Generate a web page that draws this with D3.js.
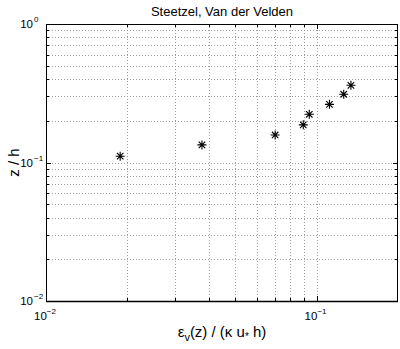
<!DOCTYPE html>
<html>
<head>
<meta charset="utf-8">
<script src="https://cdn.jsdelivr.net/npm/d3@7"></script>
<style>
  body { margin: 0; background: #fff; }
  svg { display: block; font-family: "Liberation Sans", Arial, Helvetica, sans-serif; }
</style>
</head>
<body>
<svg id="chart" width="400" height="349"></svg>
<script>
// Eddy viscosity profile (Steetzel, Van der Velden)
const epsilon = [0.0188, 0.0377, 0.0703, 0.0893, 0.094, 0.1116, 0.126, 0.134];
const zOverH  = [0.111, 0.134, 0.158, 0.187, 0.223, 0.263, 0.311, 0.361];

const xDomain = [0.01, 0.2];
const yDomain = [0.01, 1];
const xMajor = [0.01, 0.1];
const yMajor = [0.01, 0.1, 1];
const xMajorLabels = ["-2", "-1"];
const yMajorLabels = ["-2", "-1", "0"];

const margin = { left: 46, right: 2, top: 24, bottom: 48 };
const W = 400, H = 349;

const svg = d3.select("#chart");
const x = d3.scaleLog().domain(xDomain).range([margin.left, W - margin.right]);
const y = d3.scaleLog().domain(yDomain).range([H - margin.bottom, margin.top]);

const x0 = x.range()[0], x1 = x.range()[1];
const y0 = y.range()[0], y1 = y.range()[1];

// minor + major grid values strictly inside the domain
function logGrid(domain) {
  const out = [];
  for (let e = -3; e <= 1; e++) {
    for (let m = 1; m <= 9; m++) {
      const v = m * Math.pow(10, e);
      if (v > domain[0] * 1.0001 && v < domain[1] * 0.9999) out.push(v);
    }
  }
  return out;
}

const grid = svg.append("g").attr("stroke", "#9c9c9c").attr("stroke-width", 1)
  .attr("stroke-dasharray", "1,2");
grid.selectAll("line.gx").data(logGrid(xDomain)).join("line")
  .attr("x1", d => Math.round(x(d)) + 0.5).attr("x2", d => Math.round(x(d)) + 0.5)
  .attr("y1", y1).attr("y2", y0);
grid.selectAll("line.gy").data(logGrid(yDomain)).join("line")
  .attr("y1", d => Math.round(y(d)) + 0.5).attr("y2", d => Math.round(y(d)) + 0.5)
  .attr("x1", x0).attr("x2", x1);

// tick marks (inside, on all four sides)
const ticks = svg.append("g").attr("stroke", "#000").attr("stroke-width", 1);
const allX = logGrid(xDomain).concat(xMajor);
const allY = logGrid(yDomain).concat(yMajor);
allX.forEach(v => {
  const len = xMajor.includes(v) ? 5 : 3;
  const px = Math.round(x(v)) + 0.5;
  ticks.append("line").attr("x1", px).attr("x2", px).attr("y1", y0).attr("y2", y0 - len);
  ticks.append("line").attr("x1", px).attr("x2", px).attr("y1", y1).attr("y2", y1 + len);
});
allY.forEach(v => {
  const len = yMajor.includes(v) ? 5 : 3;
  const py = Math.round(y(v)) + 0.5;
  ticks.append("line").attr("y1", py).attr("y2", py).attr("x1", x0).attr("x2", x0 + len);
  ticks.append("line").attr("y1", py).attr("y2", py).attr("x1", x1).attr("x2", x1 - len);
});

// axes box
svg.append("rect")
  .attr("x", x0 + 0.5).attr("y", y1 + 0.5)
  .attr("width", x1 - x0 - 1).attr("height", y0 - y1)
  .attr("fill", "none").attr("stroke", "#000").attr("stroke-width", 1);
svg.append("line").attr("x1", x0).attr("x2", x1).attr("y1", y0 + 0.5).attr("y2", y0 + 0.5)
  .attr("stroke", "#000").attr("stroke-width", 1.5);

// tick labels: "10" with a superscript exponent
const lab = svg.append("g").attr("fill", "#000");
xMajor.forEach((v, i) => {
  const t = lab.append("text").attr("x", x(v) - 1).attr("y", y0 + 19)
    .attr("text-anchor", "middle").attr("font-size", 11.5);
  t.append("tspan").text("10");
  t.append("tspan").attr("dy", -6).attr("font-size", 8).text(xMajorLabels[i].replace("-", "\u2212"));
});
yMajor.forEach((v, i) => {
  lab.append("text").attr("x", 33).attr("y", y(v) + 4)
    .attr("text-anchor", "end").attr("font-size", 11.5).text("10");
  lab.append("text").attr("x", 34).attr("y", y(v) - 2)
    .attr("text-anchor", "start").attr("font-size", 8)
    .text(yMajorLabels[i].replace("-", "\u2212"));
});

// title
svg.append("text").attr("x", (x0 + x1) / 2).attr("y", 16).attr("text-anchor", "middle")
  .attr("font-size", 13).text("Steetzel, Van der Velden");

// axis labels
const xl = svg.append("text").attr("x", (x0 + x1) / 2).attr("y", 337)
  .attr("text-anchor", "middle").attr("font-size", 15);
xl.append("tspan").text("\u03b5");
xl.append("tspan").attr("dy", 4).attr("font-size", 11).text("v");
xl.append("tspan").attr("dy", -4).text("(z) / (\u03ba u");
xl.append("tspan").attr("dy", 3).attr("font-size", 10).text("*");
xl.append("tspan").attr("dy", -3).text(" h)");

svg.append("text").attr("transform", `translate(19,${(y0 + y1) / 2}) rotate(-90)`)
  .attr("text-anchor", "middle").attr("font-size", 15).text("z / h");

// asterisk markers
const pts = epsilon.map((e, i) => [e, zOverH[i]]);
const r = 4.5;
const star = svg.append("g").attr("stroke", "#000").attr("stroke-width", 1.1);
star.selectAll("path").data(pts).join("path")
  .attr("d", d => {
    const cx = x(d[0]), cy = y(d[1]), q = r * 0.72;
    return `M${cx - r},${cy}H${cx + r}M${cx},${cy - r}V${cy + r}` +
      `M${cx - q},${cy - q}L${cx + q},${cy + q}M${cx - q},${cy + q}L${cx + q},${cy - q}`;
  });
</script>
</body>
</html>
